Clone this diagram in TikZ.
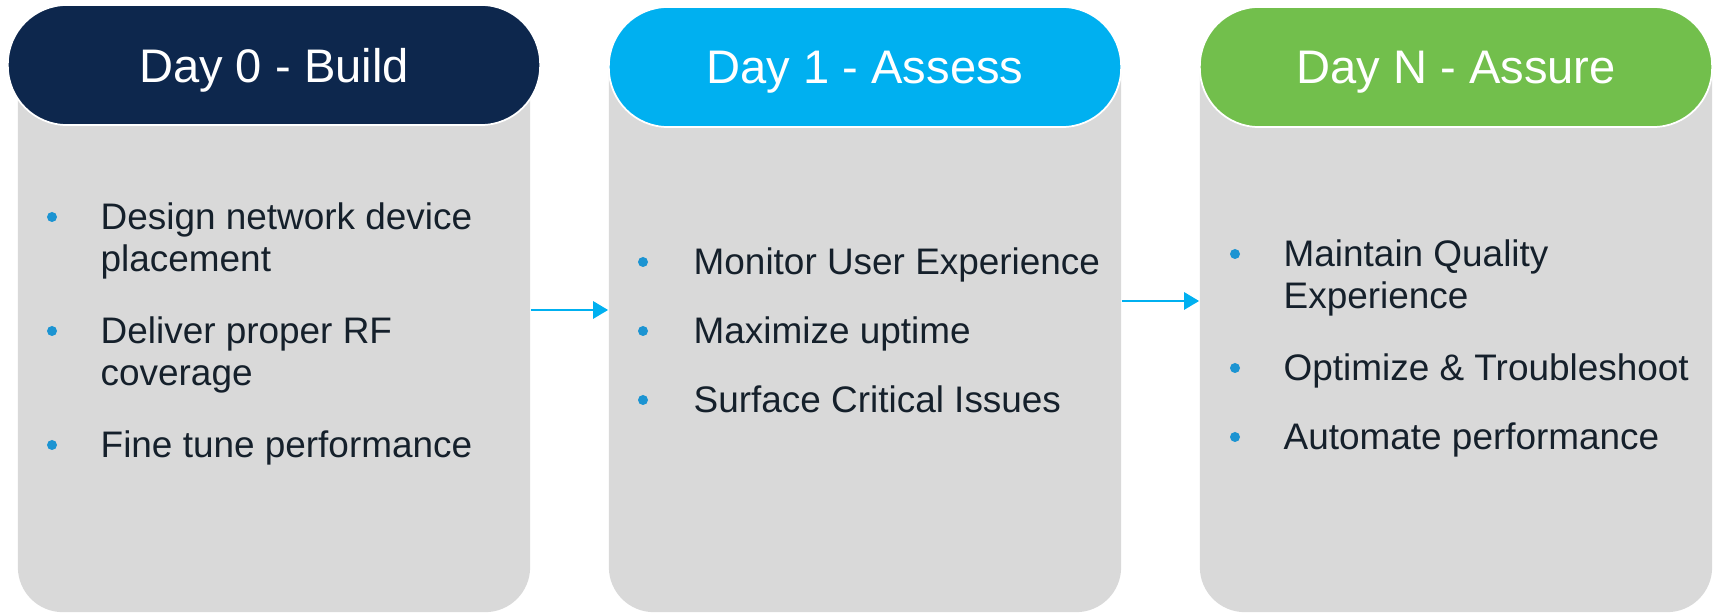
\documentclass[tikz,border=0pt]{standalone}
\usepackage{fontspec}
\setmainfont{Liberation Sans}
\usetikzlibrary{arrows.meta}

\definecolor{navy}{HTML}{0D274D}
\definecolor{skycyan}{HTML}{00B0F0}
\definecolor{leafgreen}{HTML}{72BF4C}
\definecolor{panelgray}{HTML}{D9D9D9}
\definecolor{bulletblue}{HTML}{1C94D2}
\definecolor{textdark}{HTML}{15202B}

\begin{document}
\begin{tikzpicture}[x=0.01cm, y=-0.01cm, >={Triangle[length=1.5mm, width=1.7mm]},
    body/.style={rectangle, fill=panelgray, rounded corners=0.45cm, minimum width=5.12cm, minimum height=5.92cm, inner sep=0},
    head/.style={rectangle, draw=white, line width=0.5pt, rounded corners=0.59cm, minimum height=1.2cm, inner sep=0, text=white, text depth=0pt, font=\fontsize{13.4}{16}\selectfont},
    item/.style={anchor=base west, inner sep=0, align=left, text=textdark, font=\fontsize{10.5}{11.95}\selectfont},
    dot/.style={circle, fill=bulletblue, minimum size=0.1cm, inner sep=0},
    link/.style={->, draw=skycyan, line width=0.8pt}]

        \useasboundingbox (0,0) rectangle (1717,613);

        % === Panels ===
        \node[body] (B1) at (274, 316) {};
        \node[body] (B2) at (865, 316) {};
        \node[body] (B3) at (1456, 316) {};

        % === Headers ===
        \node[head, fill=navy, minimum width=5.32cm] (H1) at (274, 65) {Day 0 - Build};
        \node[head, fill=skycyan, minimum width=5.12cm] (H2) at (865, 67) {Day 1 - Assess};
        \node[head, fill=leafgreen, minimum width=5.12cm] (H3) at (1456, 67) {Day N - Assure};

        % === Day 0 items (two-line items sit on their last line) ===
        \node[dot] (D11) at (52, 217) {};
        \node[item] (T11) at (100, 272) {Design network device\\placement};
        \node[dot] (D12) at (52, 331) {};
        \node[item] (T12) at (100, 386) {Deliver proper RF\\coverage};
        \node[dot] (D13) at (52, 445) {};
        \node[item] (T13) at (100, 458) {Fine tune performance};

        % === Day 1 items ===
        \node[dot] (D21) at (643, 262) {};
        \node[item] (T21) at (693, 275) {Monitor User Experience};
        \node[dot] (D22) at (643, 331) {};
        \node[item] (T22) at (693, 344) {Maximize uptime};
        \node[dot] (D23) at (643, 400) {};
        \node[item] (T23) at (693, 413) {Surface Critical Issues};

        % === Day N items ===
        \node[dot] (D31) at (1235, 254) {};
        \node[item] (T31) at (1283, 309) {Maintain Quality\\Experience};
        \node[dot] (D32) at (1235, 368) {};
        \node[item] (T32) at (1283, 381) {Optimize \& Troubleshoot};
        \node[dot] (D33) at (1235, 437) {};
        \node[item] (T33) at (1283, 450) {Automate performance};

        % Connections
        \draw[link] ([yshift=0.06cm]B1.east) -- ([yshift=0.06cm]B2.west);
        \draw[link] ([yshift=0.15cm]B2.east) -- ([yshift=0.15cm]B3.west);

    \end{tikzpicture}
\end{document}
